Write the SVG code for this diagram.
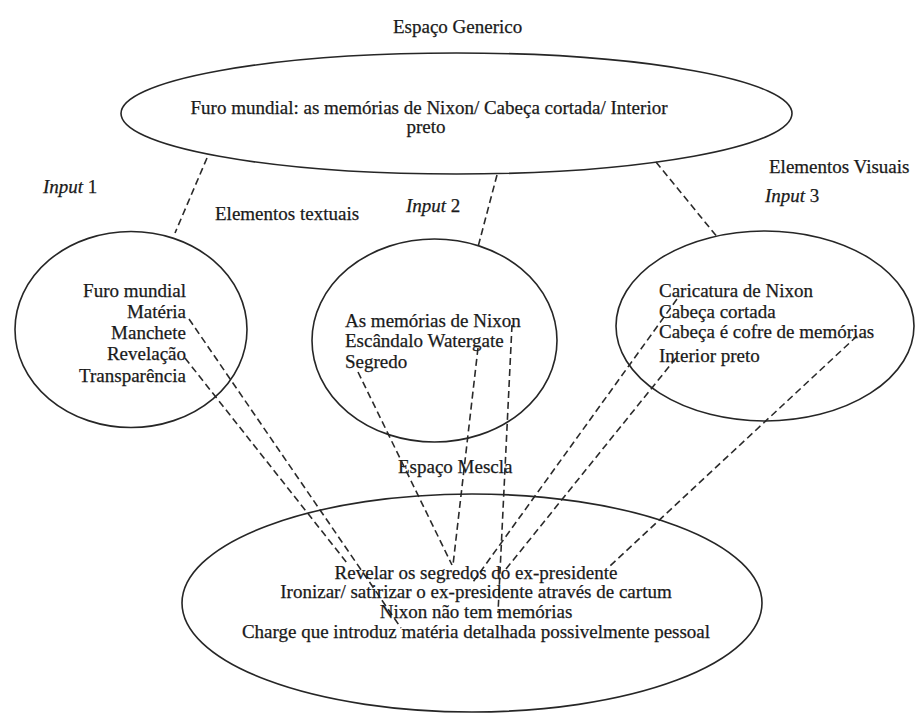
<svg xmlns="http://www.w3.org/2000/svg" width="919" height="715" viewBox="0 0 919 715">
  <style>
    text { font-family: "Liberation Serif", "Times New Roman", serif; font-size: 19px; fill: #1a1a1a; stroke: #1a1a1a; stroke-width: 0.25; }
    .it { font-style: italic; }
    .shape { fill: none; stroke: #262626; stroke-width: 1.6; }
    .link { stroke: #2a2a2a; stroke-width: 1.6; stroke-dasharray: 7 4; fill: none; }
  </style>
  <rect width="919" height="715" fill="#ffffff"/>

  <!-- free labels -->
  <text x="393" y="33">Espaço Generico</text>
  <text x="43" y="193"><tspan class="it">Input</tspan> 1</text>
  <text x="215" y="220">Elementos textuais</text>
  <text x="406" y="212"><tspan class="it">Input</tspan> 2</text>
  <text x="769" y="173">Elementos Visuais</text>
  <text x="765" y="202"><tspan class="it">Input</tspan> 3</text>
  <text x="398" y="473">Espaço Mescla</text>

  <!-- connectors -->
  <g id="connectors">
    <line class="link" x1="207" y1="158" x2="175" y2="233"/>
    <line class="link" x1="497" y1="175" x2="478" y2="247"/>
    <line class="link" x1="656" y1="162" x2="718" y2="238"/>
    <line class="link" x1="189" y1="319" x2="401" y2="628"/>
    <line class="link" x1="185" y1="358" x2="347" y2="563"/>
    <line class="link" x1="358" y1="372" x2="452" y2="565"/>
    <line class="link" x1="478" y1="348" x2="453" y2="565"/>
    <line class="link" x1="512" y1="325" x2="498" y2="613"/>
    <line class="link" x1="677" y1="299" x2="473" y2="582"/>
    <line class="link" x1="676" y1="358" x2="506" y2="569"/>
    <line class="link" x1="857" y1="336" x2="610" y2="566"/>
  </g>

  <!-- generic space -->
  <g id="generic">
    <ellipse class="shape" cx="456.5" cy="113.5" rx="335.5" ry="60.5"/>
    <text x="429" y="114" text-anchor="middle">Furo mundial: as memórias de Nixon/ Cabeça cortada/ Interior</text>
    <text x="426" y="133" text-anchor="middle">preto</text>
  </g>

  <!-- input 1: textual elements -->
  <g id="input1">
    <ellipse class="shape" cx="131" cy="329.5" rx="116" ry="98"/>
    <text x="186" y="297" text-anchor="end">Furo mundial</text>
    <text x="186" y="318" text-anchor="end">Matéria</text>
    <text x="186" y="339" text-anchor="end">Manchete</text>
    <text x="186" y="360" text-anchor="end">Revelação</text>
    <text x="186" y="382" text-anchor="end">Transparência</text>
  </g>

  <!-- input 2 -->
  <g id="input2">
    <ellipse class="shape" cx="434.5" cy="340.5" rx="122.5" ry="101.5"/>
    <text x="345" y="327">As memórias de Nixon</text>
    <text x="345" y="347">Escândalo Watergate</text>
    <text x="345" y="368">Segredo</text>
  </g>

  <!-- input 3: visual elements -->
  <g id="input3">
    <ellipse class="shape" cx="765" cy="326" rx="149" ry="95"/>
    <text x="659" y="297">Caricatura de Nixon</text>
    <text x="659" y="318">Cabeça cortada</text>
    <text x="659" y="338">Cabeça é cofre de memórias</text>
    <text x="659" y="362">Interior preto</text>
  </g>

  <!-- blended space -->
  <g id="blend">
    <ellipse class="shape" cx="472" cy="603" rx="290" ry="109"/>
    <text x="476" y="579" text-anchor="middle">Revelar os segredos do ex-presidente</text>
    <text x="476" y="598" text-anchor="middle">Ironizar/ satirizar o ex-presidente através de cartum</text>
    <text x="476" y="618" text-anchor="middle">Nixon não tem memórias</text>
    <text x="476" y="638" text-anchor="middle">Charge que introduz matéria detalhada possivelmente pessoal</text>
  </g>
</svg>
